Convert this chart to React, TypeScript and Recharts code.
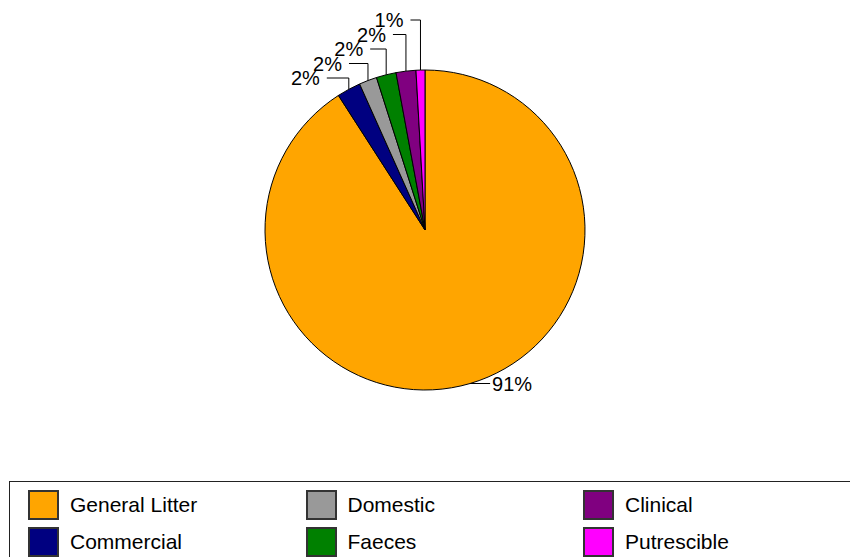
import { Cell, Legend, Pie, PieChart } from "recharts";

// share of litter collected, by category (%)
const categories = ["General Litter", "Commercial", "Domestic", "Faeces", "Clinical", "Putrescible"];
const shares = [90.9, 2.4, 1.8, 2.0, 2.0, 0.9];
const colors = ["#FFA500", "#000080", "#999999", "#008000", "#800080", "#FF00FF"];

const data = categories.map((name, i) => ({ name, value: shares[i] }));

const FONT = "'Liberation Sans', Arial, sans-serif";
const RAD = Math.PI / 180;

type LabelProps = {
  cx: number;
  cy: number;
  midAngle: number;
  outerRadius: number;
  percent: number;
  index: number;
};

// big slice gets a short horizontal leader; the thin slices near the top get
// staggered elbow leaders going up and left so the labels don't pile up
function renderLabel({ cx, cy, midAngle, outerRadius, percent, index }: LabelProps) {
  const px = cx + outerRadius * Math.cos(-midAngle * RAD);
  const py = cy + outerRadius * Math.sin(-midAngle * RAD);
  const text = `${Math.round(percent * 100)}%`;

  if (index === 0) {
    return (
      <g key={`lbl-${index}`}>
        <line x1={px} y1={py} x2={px + 20} y2={py} stroke="#000" strokeWidth={1} />
        <text x={px + 22} y={py} fontFamily={FONT} fontSize={20} fill="#000" dominantBaseline="central">
          {text}
        </text>
      </g>
    );
  }

  const rank = data.length - 1 - index;
  const elbowY = cy - outerRadius - 50 + 14.5 * rank;
  const elbowX = px - 10 - 3 * rank;
  return (
    <g key={`lbl-${index}`}>
      <polyline
        points={`${px},${py} ${px},${elbowY} ${elbowX},${elbowY}`}
        fill="none"
        stroke="#000"
        strokeWidth={1}
      />
      <text
        x={elbowX - 7}
        y={elbowY}
        fontFamily={FONT}
        fontSize={20}
        fill="#000"
        textAnchor="end"
        dominantBaseline="central"
      >
        {text}
      </text>
    </g>
  );
}

function LegendBox() {
  return (
    <div
      style={{
        border: "1px solid #222",
        boxSizing: "border-box",
        width: 860,
        height: 90,
        padding: "8px 0 0 18px",
        display: "grid",
        gridAutoFlow: "column",
        gridTemplateRows: "repeat(2, 37px)",
        gridTemplateColumns: "repeat(3, 277.5px)",
        fontFamily: FONT,
        fontSize: 21,
        color: "#000",
      }}
    >
      {categories.map((name, i) => (
        <div key={name} style={{ display: "flex", alignItems: "center", height: 29 }}>
          <span
            style={{
              display: "inline-block",
              width: 27,
              height: 26,
              background: colors[i],
              border: "2px solid #333",
              marginRight: 11,
            }}
          />
          <span>{name}</span>
        </div>
      ))}
    </div>
  );
}

export default function App() {
  return (
    <div style={{ position: "absolute", left: 0, top: 0, width: 850, height: 557, background: "#fff", overflow: "hidden" }}>
      <PieChart width={850} height={557} margin={{ top: 0, right: 0, bottom: 0, left: 0 }}>
        <Pie
          data={data}
          dataKey="value"
          nameKey="name"
          cx={425}
          cy={230}
          outerRadius={160}
          startAngle={90}
          endAngle={-270}
          stroke="#000"
          strokeWidth={1}
          label={renderLabel}
          labelLine={false}
          isAnimationActive={false}
        >
          {data.map((d, i) => (
            <Cell key={d.name} fill={colors[i]} />
          ))}
        </Pie>
        <Legend
          content={() => <LegendBox />}
          wrapperStyle={{ position: "absolute", left: 9, top: 481, width: 860 }}
        />
      </PieChart>
    </div>
  );
}
